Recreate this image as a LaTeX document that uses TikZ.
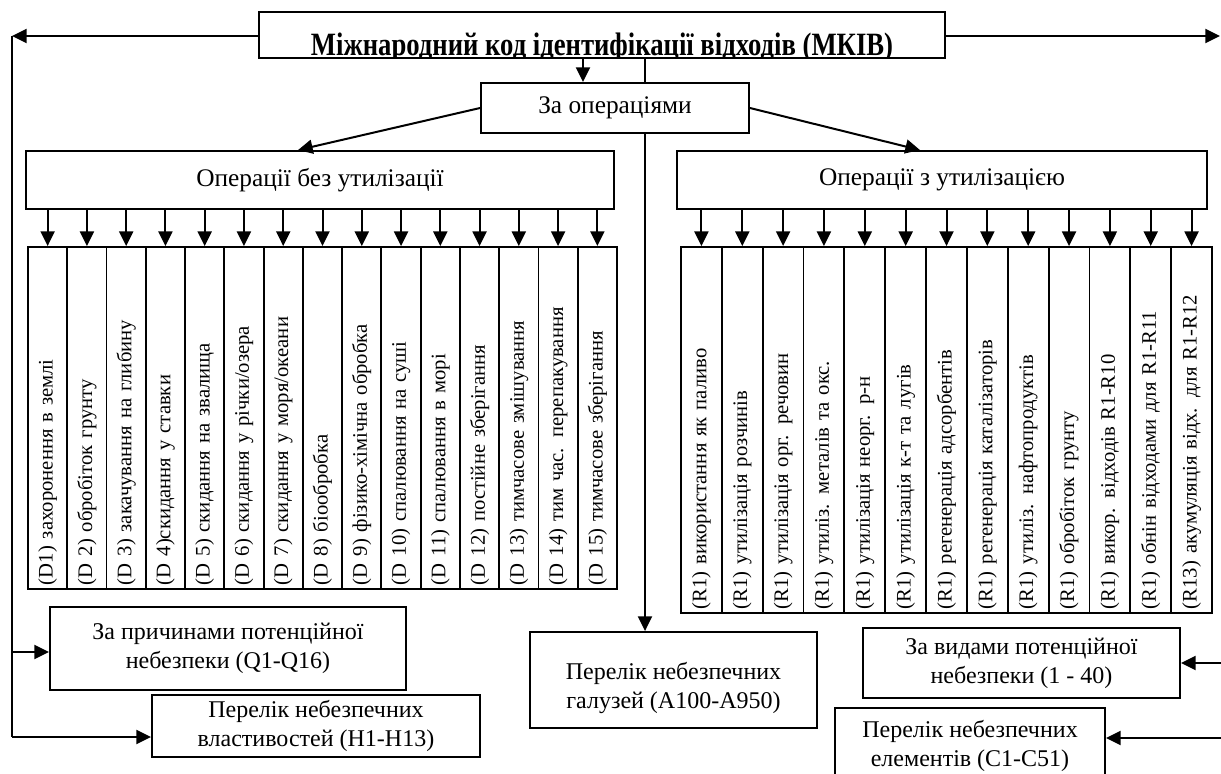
\documentclass[tikz,border=0pt]{standalone}
\usepackage{fontspec}
\setmainfont{Liberation Serif}
\usetikzlibrary{arrows.meta}
\begin{document}
\begin{tikzpicture}[x=0.75pt,y=-0.75pt,
  box/.style={draw, line width=1.4pt, inner sep=0pt, align=center},
  rect/.style n args={4}{minimum width={(#3-#1)*0.75pt}, minimum height={(#4-#2)*0.75pt}},
  lbl/.style={font=\fontsize{19pt}{22pt}\selectfont},
  blbl/.style={font=\fontsize{18pt}{21.5pt}\selectfont},
  col/.style={draw, line width=1.4pt, rotate=90, inner xsep=3pt, inner ysep=0pt, align=left, font=\fontsize{15.5pt}{18pt}\selectfont},
  arr/.style={line width=1.5pt, -{Triangle[length=11pt,width=10.5pt]}},
  ln/.style={line width=1.5pt}]
\useasboundingbox (0,0) rectangle (1221,774);

% top box
\node[box, rect={259}{12}{945}{58}] (top) at (602,35) {};
\begin{scope}
\clip (260,13) rectangle (944,57);
\node[anchor=base, inner sep=0pt, font=\fontsize{20pt}{24pt}\selectfont\bfseries] (title) at (602,56) {\scalebox{1}[1.22]{Міжнародний код ідентифікації відходів (МКІВ)}};
\end{scope}

\node[box, lbl, rect={481}{83}{749}{133}] (za) at (615,108) {За операціями};
\node[box, lbl, rect={26}{151}{614}{209}] (opL) at (320,180) {Операції без утилізації};
\node[box, lbl, rect={677}{151}{1207}{209}] (opR) at (942,180) {Операції з утилізацією};

% D columns
\foreach \t [count=\i] in {
  (D1) захоронення в землі,
  (D 2) обробіток грунту,
  (D 3) закачування на глибину,
  (D 4)скидання у ставки,
  (D 5) скидання на звалища,
  (D 6) скидання у річки/озера,
  (D 7) скидання у моря/океани,
  (D 8) біообробка,
  (D 9) фізико-хімічна обробка,
  (D 10) спалювання на суші,
  (D 11) спалювання в морі,
  (D 12) постійне зберігання,
  (D 13) тимчасове змішування,
  (D 14) тим час. перепакування,
  (D 15) тимчасове зберігання}{
  \pgfmathsetmacro\cx{28+(\i-0.5)*39.267}
  \node[col, minimum width=256.5pt, minimum height=29.45pt, text width=250.5pt] (d\i) at (\cx,418) {\t};
  \draw[arr] (d\i.east |- opL.south) -- (d\i.east);
}

% R columns
\foreach \t [count=\i] in {
  (R1) використання як паливо,
  (R1) утилізація розчинів,
  (R1) утилізація орг.\ \,речовин,
  (R1) утиліз. металів та окс.,
  (R1) утилізація неорг. р-н,
  (R1) утилізація к-т та лугів,
  (R1) регенерація адсорбентів,
  (R1) регенерація каталізаторів,
  (R1) утиліз. нафтопродуктів,
  (R1) обробіток грунту,
  (R1) викор. відходів R1-R10,
  (R1) обнін відходами для R1-R11,
  (R13) акумуляція відх. для R1-R12}{
  \pgfmathsetmacro\cx{681+(\i-0.5)*40.846}
  \node[col, minimum width=274.5pt, minimum height=30.63pt, text width=268.5pt] (r\i) at (\cx,430) {\t};
  \draw[arr] (r\i.east |- opR.south) -- (r\i.east);
}

% bottom boxes
\node[box, blbl, rect={50}{607}{406}{690}] (Q) at (228,648.5) {За причинами потенційної\\небезпеки (Q1-Q16)};
\node[box, blbl, rect={152}{695}{480}{757}] (H) at (316,726) {Перелік небезпечних\\властивостей (H1-H13)};
\node[box, rect={530}{632}{817}{728}] (A) at (673.5,680) {};
\node[blbl, align=center, inner sep=0pt] (Atext) at (673.5,688) {Перелік небезпечних\\галузей (A100-A950)};
\node[box, blbl, rect={863}{628}{1180}{698}] (V) at (1021.5,663) {За видами потенційної\\небезпеки (1 - 40)};
\node[box, rect={835}{708}{1105}{790}] (E) at (970,749) {};
\node[blbl, align=center, inner sep=0pt] (Etext) at (970,746) {Перелік небезпечних\\елементів (C1-C51)};

% connectors
\coordinate (t1) at (583,0);
\coordinate (t2) at (645,0);
\draw[arr] (t1 |- top.south) -- (t1 |- za.north);
\draw[ln] (t2 |- top.south) -- (t2 |- za.north);
\draw[arr] (t2 |- za.south) -- (t2 |- A.north);
\draw[arr] (za.west) -- ([xshift=-16.5pt]opL.north);
\draw[arr] (za.east) -- ([xshift=-16.5pt]opR.north);

\coordinate (L) at (12,36);
\coordinate (Rt) at (1220,36);
\coordinate (Rv) at (1221,0);
\coordinate (Lq) at (12,652);
\coordinate (Lh) at (12,737);
\coordinate (Re) at (1221,738);
\draw[arr] (top.west |- L) -- (L);
\draw[arr] (top.east |- Rt) -- (Rt);
\draw[ln] (L) -- (Lh);
\draw[arr] (Lq) -- (Q.west |- Lq);
\draw[arr] (Lh) -- (H.west |- Lh);
\draw[arr] (Rv |- V.east) -- (V.east);
\draw[arr] (Re) -- (E.east |- Re);
\end{tikzpicture}
\end{document}
